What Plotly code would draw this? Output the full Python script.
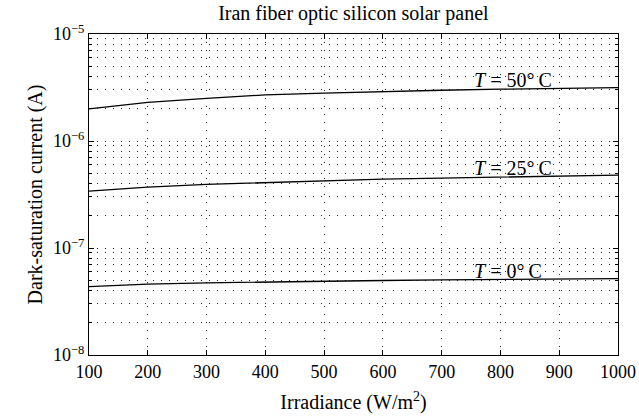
import math
import plotly.graph_objects as go

irradiance = [100, 200, 300, 400, 500, 600, 700, 800, 900, 1000]
i0_50C = [2.0e-6, 2.3e-6, 2.5e-6, 2.7e-6, 2.8e-6, 2.9e-6, 2.98e-6, 3.05e-6, 3.1e-6, 3.15e-6]
i0_25C = [3.4e-7, 3.7e-7, 3.93e-7, 4.1e-7, 4.25e-7, 4.4e-7, 4.5e-7, 4.6e-7, 4.7e-7, 4.8e-7]
i0_0C = [4.35e-8, 4.6e-8, 4.72e-8, 4.82e-8, 4.9e-8, 4.97e-8, 5.03e-8, 5.08e-8, 5.13e-8, 5.18e-8]
labels = ["<i>T</i> = 50°\u2009C", "<i>T</i> = 25°\u2009C", "<i>T</i> = 0°\u2009C"]
label_y = [3.75e-6, 5.65e-7, 6.1e-8]

ytickvals = [1e-8, 1e-7, 1e-6, 1e-5]
yticktext = ["10<sup>−8</sup>", "10<sup>−7</sup>", "10<sup>−6</sup>", "10<sup>−5</sup>"]
yminor = [m * 10.0 ** e for e in (-8, -7, -6) for m in range(2, 10)]

font = "Liberation Serif"
fs = 18
dots = "1px,7px"
gcol = "rgba(0,0,0,0.85)"
fig = go.Figure()
for ys in (i0_50C, i0_25C, i0_0C):
    fig.add_trace(go.Scatter(x=irradiance, y=ys, mode="lines",
                             line=dict(color="black", width=1.3), showlegend=False))
for t, y in zip(labels, label_y):
    fig.add_annotation(x=757, y=math.log10(y), yref="y", xref="x", text=t, showarrow=False,
                       font=dict(family=font, size=20, color="black"), xanchor="left",
                       xshift=-3)

axis_common = dict(showline=True, linecolor="black", linewidth=1.2, mirror="allticks",
                   ticks="inside", ticklen=5, tickcolor="black", zeroline=False, automargin=False,
                   showgrid=True, gridcolor=gcol, gridwidth=1, griddash=dots,
                   tickfont=dict(family=font, size=fs, color="black"))
fig.update_xaxes(range=[100, 1000], tickmode="array", tickvals=irradiance,
                 title=dict(text="Irradiance (W/m<sup>2</sup>)", font=dict(family=font, size=20, color="black"), standoff=14),
                 **axis_common)
fig.update_yaxes(type="log", range=[-8, -5], tickmode="array", tickvals=ytickvals, ticktext=yticktext,
                 title=dict(text="Dark-saturation current (A)", font=dict(family=font, size=20, color="black"), standoff=4),
                 minor=dict(tickmode="array", tickvals=yminor, ticks="inside", ticklen=3, tickcolor="black",
                            showgrid=True, gridcolor=gcol, gridwidth=1, griddash=dots),
                 **axis_common)
fig.update_layout(width=639, height=419, paper_bgcolor="white", plot_bgcolor="white",
                  margin=dict(l=89, r=21, t=34, b=64, autoexpand=False),
                  title=dict(text="Iran fiber optic silicon solar panel", x=0.553, xanchor="center",
                             y=0.985, yanchor="top", font=dict(family=font, size=20, color="black")))
fig.write_html("out.html")
